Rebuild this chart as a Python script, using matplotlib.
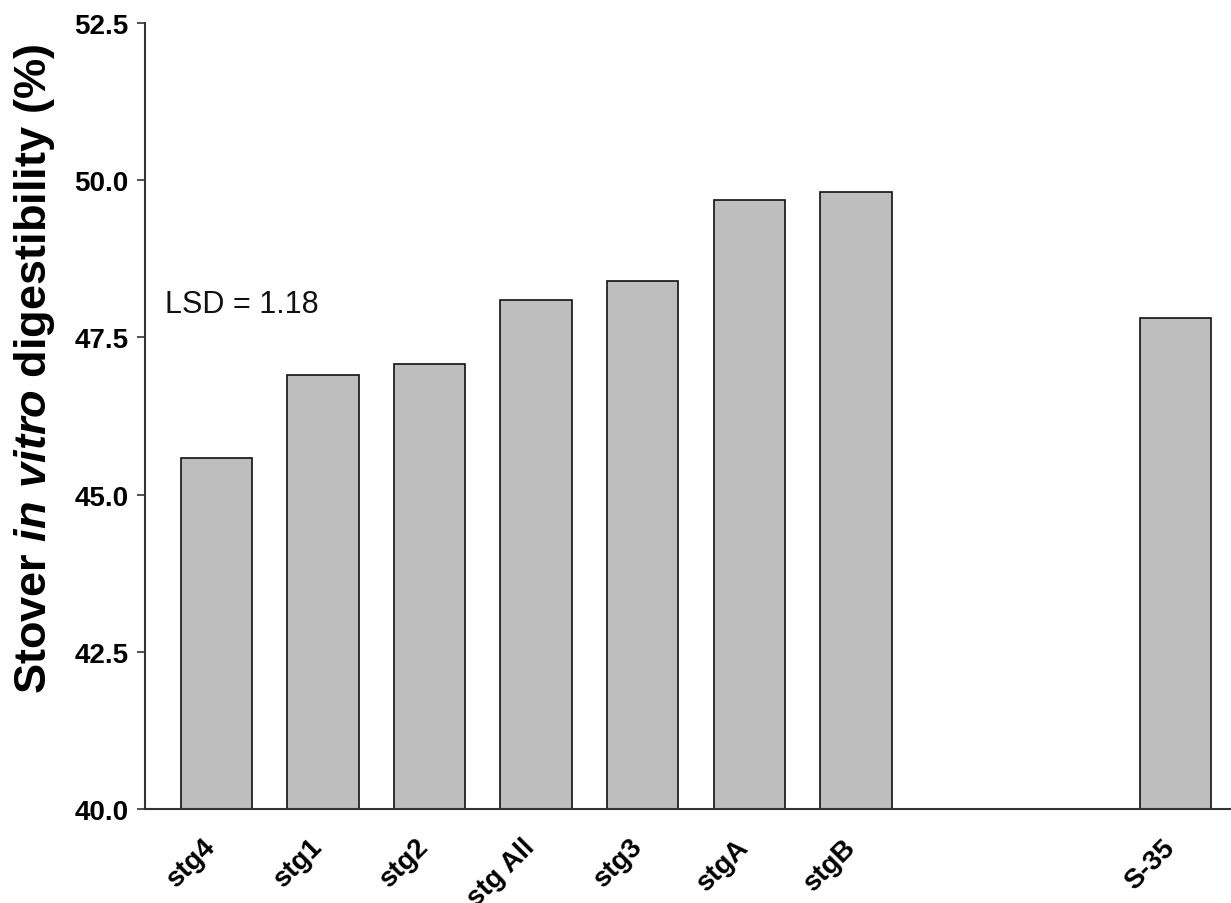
import numpy as np
import matplotlib
matplotlib.use('Agg')
import matplotlib.pyplot as plt

plt.rcParams['font.family'] = ['Liberation Sans', 'DejaVu Sans']
plt.rcParams['mathtext.fontset'] = 'custom'
plt.rcParams['mathtext.it'] = 'Liberation Sans:italic:bold'
plt.rcParams['mathtext.rm'] = 'Liberation Sans:bold'

lines = ['stg4', 'stg1', 'stg2', 'stg All', 'stg3', 'stgA', 'stgB', 'S-35']
positions = [0, 1, 2, 3, 4, 5, 6, 9]
digestibility = [45.58, 46.90, 47.08, 48.09, 48.40, 49.69, 49.81, 47.81]
yticks = [40.0, 42.5, 45.0, 47.5, 50.0, 52.5]

fig = plt.figure(figsize=(12.31, 9.04), dpi=100)
ax = fig.add_axes([0.1178, 0.104, 0.8822, 0.8695])

ax.bar(positions, digestibility, width=0.67, bottom=0,
       color='#bebebe', edgecolor='#111111', linewidth=1.2)

ax.set_xlim(-0.67, 9.52)
ax.set_ylim(40, 52.5)
ax.set_yticks(yticks)
ax.set_yticklabels(['%.1f' % v for v in yticks], fontsize=20, fontweight='bold')
ax.set_xticks(positions)
ax.set_xticklabels(lines, fontsize=20, fontweight='bold', rotation=45,
                   ha='right', va='baseline', rotation_mode='anchor')

for s in ['top', 'right']:
    ax.spines[s].set_visible(False)
for s in ['left', 'bottom']:
    ax.spines[s].set_linewidth(1.5)
    ax.spines[s].set_color('#333333')

ax.tick_params(axis='y', length=6, width=1.2, color='#333333', pad=6)
ax.tick_params(axis='x', length=0, pad=28)

ax.text(0.018, 0.642, 'LSD = 1.18', transform=ax.transAxes, fontsize=22,
        va='center', ha='left', color='#111111')

fig.text(35 / 1231, 1 - 369 / 904, r'Stover $\mathit{in\ vitro}$ digestibility (%)',
         rotation=90, ha='center', va='center', fontsize=32.5, fontweight='bold')

plt.savefig('out.png', dpi=100)
